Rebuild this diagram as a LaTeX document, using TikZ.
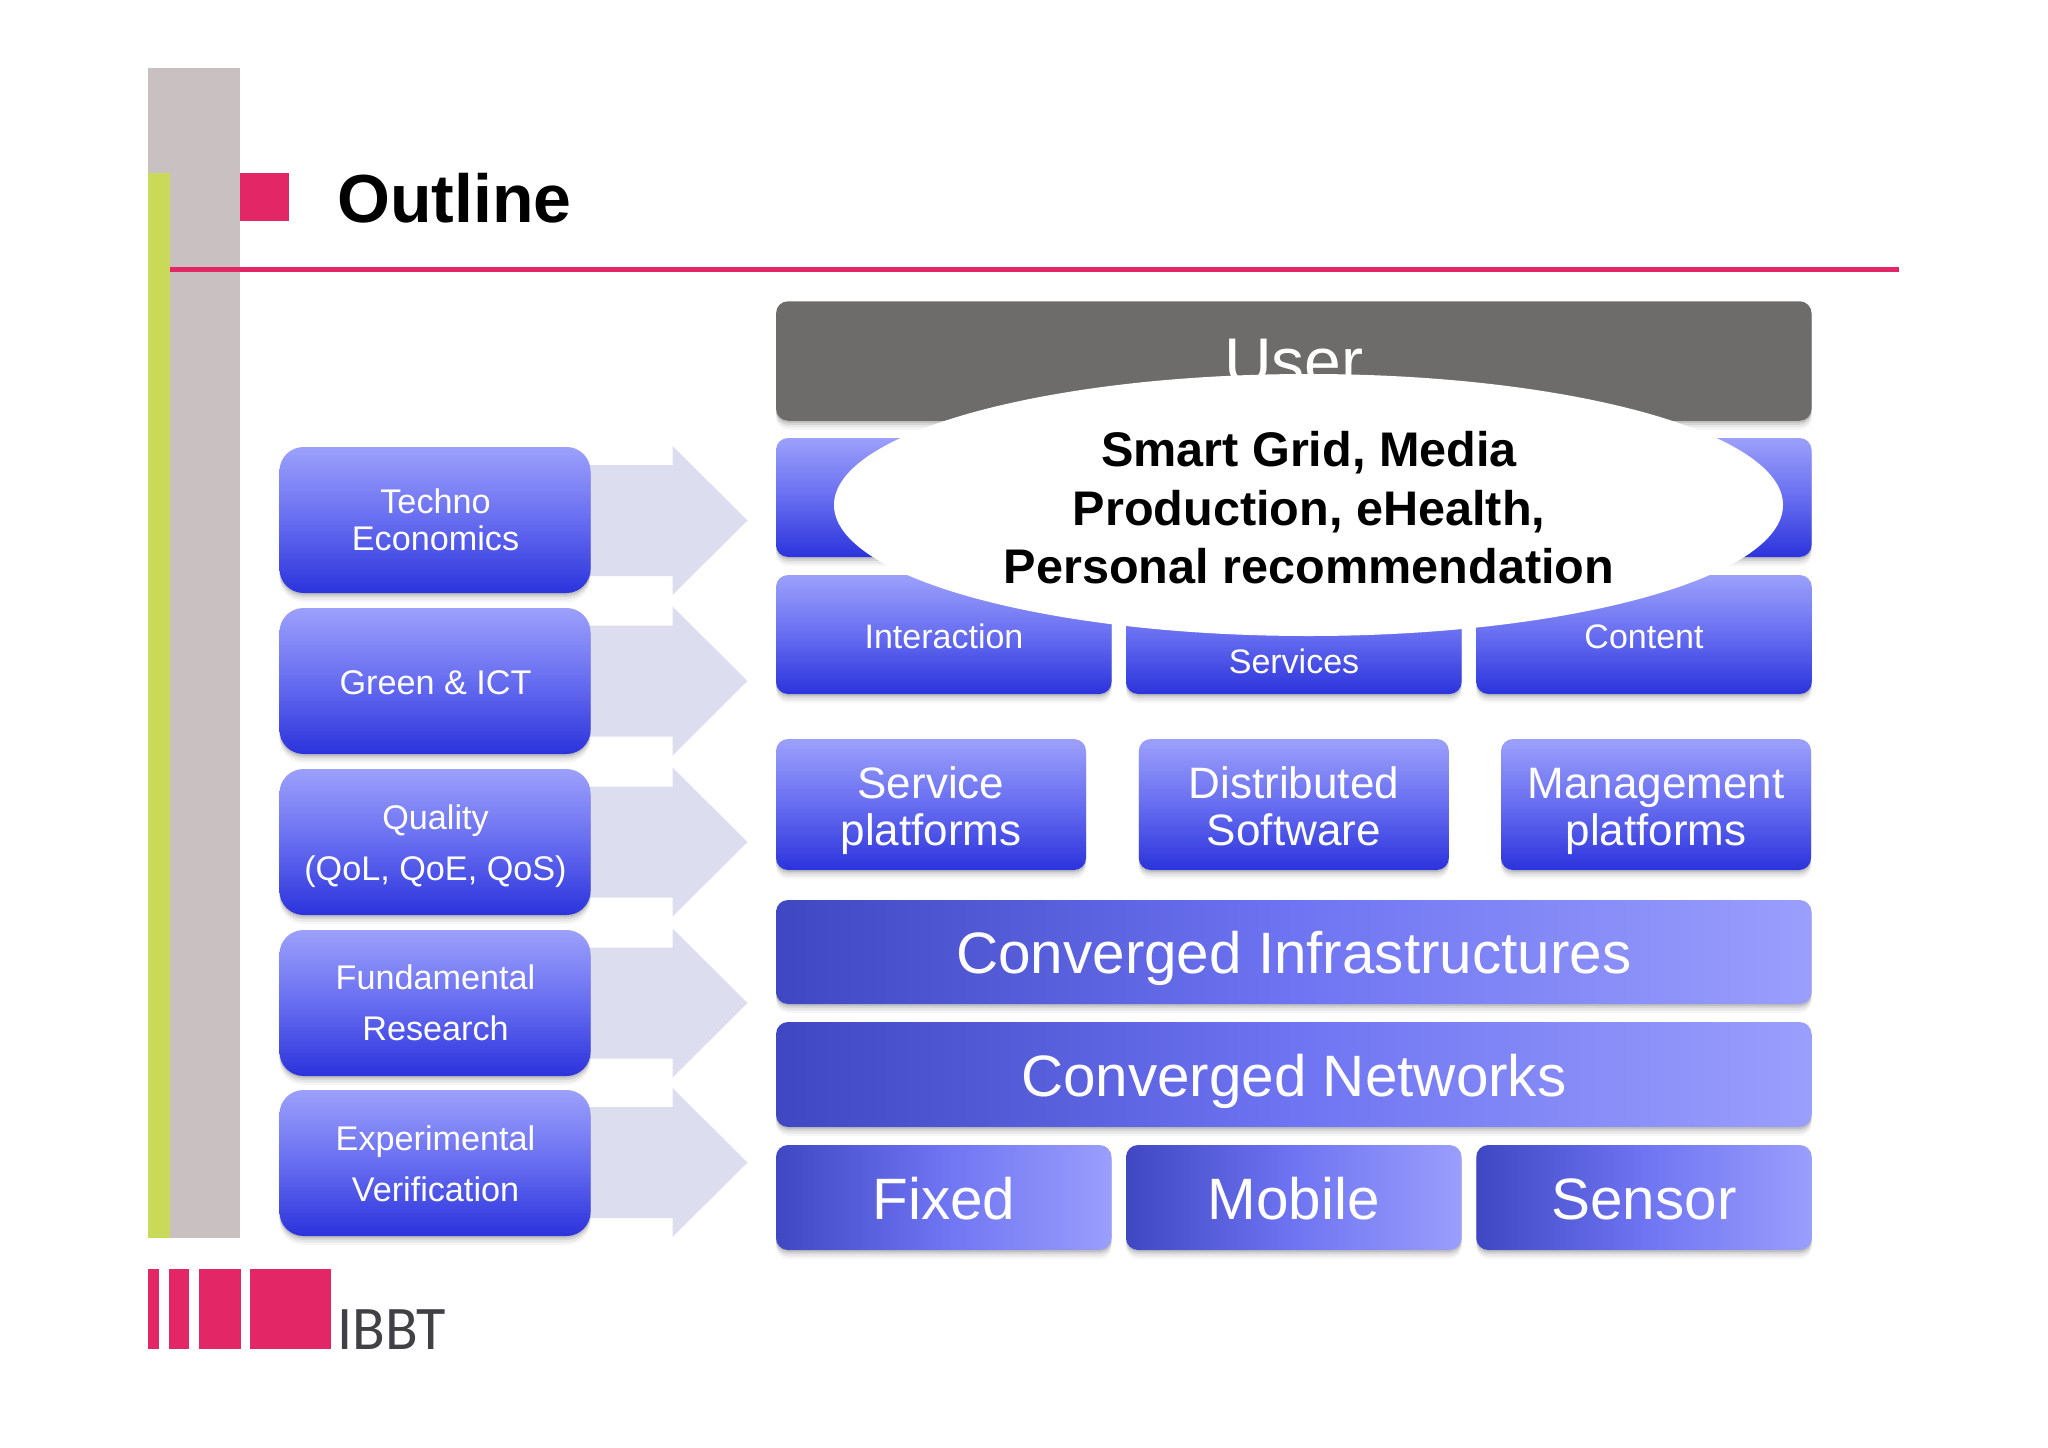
\documentclass[tikz,border=0pt]{standalone}
\usepackage{fontspec}
\setmainfont{Liberation Sans}
\newfontfamily\logofont{Carlito}
\usetikzlibrary{shapes.geometric,shadows}
\definecolor{barGray}{HTML}{C9C1C1}
\definecolor{barLime}{HTML}{C8DA58}
\definecolor{brandPink}{HTML}{E22666}
\definecolor{logoGray}{HTML}{404045}
\definecolor{userGray}{HTML}{6D6C6A}
\definecolor{arrowTint}{HTML}{DCDDEF}
\definecolor{blueLight}{HTML}{9CA0FB}
\definecolor{blueMid}{HTML}{676DF0}
\definecolor{blueDeep}{HTML}{2B33DC}
\definecolor{slateDark}{HTML}{3F47C2}
\definecolor{slateLight}{HTML}{9A9EFC}
\newcommand{\fsz}[2]{\fontsize{#1}{#2}\selectfont}
\tikzset{
  softshadow/.style={
    general shadow={shadow yshift=-9pt,fill=black,opacity=.035},
    general shadow={shadow yshift=-6.5pt,fill=black,opacity=.06},
    general shadow={shadow yshift=-4pt,fill=black,opacity=.08},
    general shadow={shadow yshift=-2pt,fill=black,opacity=.10}},
  box/.style={rectangle,rounded corners=#1,inner sep=0pt,align=center,text=white,softshadow},
  box/.default=12pt,
  vbox/.style={box=#1,top color=blueLight,bottom color=blueDeep,middle color=blueMid},
  vbox/.default=12pt,
  hbox/.style={box,left color=slateDark,right color=slateLight,middle color=blueMid!85!slateLight},
  sidebox/.style={vbox=24pt,minimum width=311pt,minimum height=146pt,font=\fsz{34.2}{51}},
  tier/.style={vbox,minimum height=119pt},
  midbox/.style={vbox,minimum width=310pt,minimum height=131pt,font=\fsz{44}{47}},
  wideband/.style={hbox,minimum width=1035.5pt},
  bandtext/.style={anchor=base,inner sep=0pt,text=white,font=\fsz{58.4}{60}},
  cell/.style={hbox,minimum width=335.5pt,minimum height=105pt},
  celltext/.style={anchor=base,inner sep=0pt,text=white,font=\fsz{58.4}{60}},
  midtext/.style={anchor=base,inner sep=0pt,text=white,align=center,font=\fsz{44}{47}},
  sidetext/.style={anchor=base,inner sep=0pt,text=white,align=center,font=\fsz{34.2}{51}},
  tierlabel/.style={anchor=base,text=white,inner sep=0pt,font=\fsz{34}{36}},
  flowarrow/.style={fill=arrowTint},
}
\begin{document}
\begin{tikzpicture}[x=1pt,y=-1pt]
\useasboundingbox (0,0) rectangle (2048,1448);
% side bars and header
\fill[barGray] (148,67.5) rectangle (240,1238);
\fill[barLime] (148,172.5) rectangle (170,1238);
\fill[brandPink] (240,172.5) rectangle (289,221);
\fill[brandPink] (170,266.5) rectangle (1899,271.5);
\node[anchor=base west,inner sep=0pt,font=\bfseries\fsz{68}{70}] (title) at (337,222) {Outline};
% logo
\fill[brandPink] (148,1268.5) rectangle (158.5,1349);
\fill[brandPink] (168.5,1268.5) rectangle (188.5,1349);
\fill[brandPink] (198.5,1268.5) rectangle (240.5,1349);
\fill[brandPink] (249.5,1268.5) rectangle (331,1349);
\node[anchor=base west,inner sep=0pt,text=logoGray,xscale=.97,font=\logofont\fsz{62}{64}] (logo) at (337,1349) {IBBT};
% big arrows
\foreach \c in {520.5,681,842,1003,1162.5}
  \fill[flowarrow] (580,\c-55.5) -- (672.5,\c-55.5) -- (672.5,\c-74.5) -- (747.5,\c)
     -- (672.5,\c+74.5) -- (672.5,\c+55.5) -- (580,\c+55.5) -- cycle;
% left column
\node[sidebox] (techno) at (435,520) {};
\node[sidebox] (green) at (435,681) {};
\node[sidebox] (quality) at (435,842) {};
\node[sidebox] (fund) at (435,1003) {};
\node[sidebox] (exper) at (435,1163) {};
\node[sidetext,font=\fsz{34.2}{36.5}] (technot) at (435.5,550) {Techno\\Economics};
\node[sidetext] (greent) at (435.5,694) {Green \& ICT};
\node[sidetext] (qualityt) at (435.5,880) {Quality\\(QoL, QoE, QoS)};
\node[sidetext] (fundt) at (435.5,1040) {Fundamental\\Research};
\node[sidetext] (expert) at (435.5,1201) {Experimental\\Verification};
% stack
\node[box,fill=userGray,minimum width=1035.5pt,minimum height=119.5pt] (user) at (1293.8,361) {};
\node[anchor=base,inner sep=0pt,text=white,font=\fsz{66}{66}] (userlabel) at (1294,384.5) {User};
\node[tier,minimum width=1035.5pt] (app) at (1293.8,497.5) {};
\node[tier,minimum width=335.5pt] (interaction) at (943.75,634.5) {};
\node[tier,minimum width=335.5pt] (services) at (1293.8,634.5) {};
\node[tier,minimum width=335.5pt] (content) at (1644,634.5) {};
\node[tierlabel] (interactionlabel) at (944,648) {Interaction};
\node[tierlabel] (serviceslabel) at (1294,673.5) {Services};
\node[tierlabel] (contentlabel) at (1644,648) {Content};
\node[midbox] (svc) at (931,804.5) {};
\node[midbox] (dist) at (1293.8,804.5) {};
\node[midbox] (mgmt) at (1656,804.5) {};
\node[midtext] (svct) at (931,845.3) {Service\\platforms};
\node[midtext] (distt) at (1293.8,845.3) {Distributed\\Software};
\node[midtext] (mgmtt) at (1656,845.3) {Management\\platforms};
\node[wideband,minimum height=104pt] (infra) at (1293.8,952) {};
\node[wideband,minimum height=105pt] (nets) at (1293.8,1074.5) {};
\node[bandtext] (infrat) at (1293.8,973.5) {Converged Infrastructures};
\node[bandtext] (netst) at (1293.8,1096) {Converged Networks};
\node[cell] (fixed) at (943.75,1197.5) {};
\node[cell] (mobile) at (1293.8,1197.5) {};
\node[cell] (sensor) at (1644,1197.5) {};
\node[celltext] (fixedt) at (943.75,1219) {Fixed};
\node[celltext] (mobilet) at (1293.8,1219) {Mobile};
\node[celltext] (sensort) at (1644,1219) {Sensor};
% overlay ellipse
\node[ellipse,fill=white,inner sep=0pt,minimum width=949pt,minimum height=262pt] (usecases) at (1308.5,505) {};
\node[align=center,inner sep=0pt,anchor=center,font=\bfseries\fsz{48.6}{58.5}] (usecasest) at (1309,508)
  {Smart Grid, Media\\Production, eHealth,\\Personal recommendation};
\end{tikzpicture}
\end{document}
